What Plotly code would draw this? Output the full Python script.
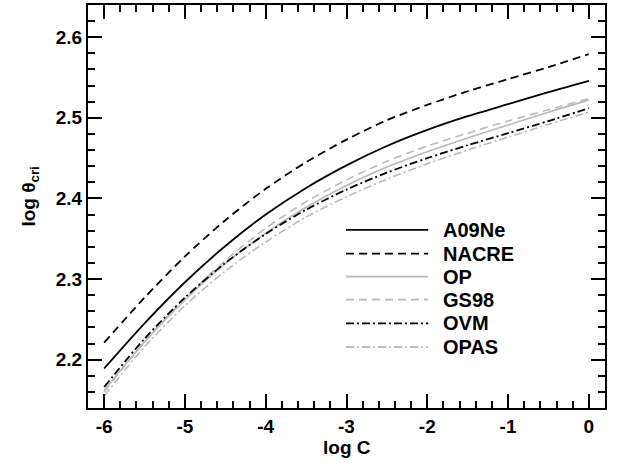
import plotly.graph_objects as go

# ---- data ----
log_C = [-6.0, -5.5, -5.0, -4.5, -4.0, -3.5, -3.0, -2.5, -2.0, -1.5, -1.0, -0.5, 0.0]

A09Ne = [2.189, 2.245, 2.296, 2.341, 2.380, 2.413, 2.441, 2.465, 2.485, 2.502, 2.517, 2.532, 2.546]
NACRE = [2.221, 2.277, 2.328, 2.373, 2.412, 2.445, 2.473, 2.497, 2.516, 2.533, 2.548, 2.563, 2.579]
OP    = [2.162, 2.222, 2.274, 2.319, 2.357, 2.389, 2.416, 2.439, 2.458, 2.475, 2.491, 2.507, 2.522]
GS98  = [2.160, 2.222, 2.276, 2.323, 2.363, 2.396, 2.423, 2.446, 2.465, 2.481, 2.496, 2.510, 2.524]
OVM   = [2.166, 2.226, 2.277, 2.320, 2.356, 2.386, 2.411, 2.432, 2.450, 2.466, 2.481, 2.496, 2.512]
OPAS  = [2.155, 2.216, 2.267, 2.310, 2.346, 2.377, 2.402, 2.424, 2.443, 2.460, 2.476, 2.492, 2.507]

names = ["A09Ne", "NACRE", "OP", "GS98", "OVM", "OPAS"]
series = [A09Ne, NACRE, OP, GS98, OVM, OPAS]

x_tickvals = [-6, -5, -4, -3, -2, -1, 0]
x_ticktext = ["-6", "-5", "-4", "-3", "-2", "-1", "0"]
y_tickvals = [2.2, 2.3, 2.4, 2.5, 2.6]
y_ticktext = ["2.2", "2.3", "2.4", "2.5", "2.6"]

x_title = "log C"
y_title = "log θ<sub>cri</sub>"

# ---- styles ----
BLACK = "#000000"
GRAY = "#b9b9b9"
styles = [
    dict(color=BLACK, width=1.8, dash="solid"),
    dict(color=BLACK, width=1.8, dash="8px,5px"),
    dict(color=GRAY, width=1.6, dash="solid"),
    dict(color=GRAY, width=1.6, dash="8px,5px"),
    dict(color=BLACK, width=1.8, dash="8px,3px,2px,3px"),
    dict(color=GRAY, width=1.6, dash="8px,3px,2px,3px"),
]

FONT = "Liberation Sans, Arial, sans-serif"
title_font = dict(size=19, color="black", weight="bold", family=FONT)

fig = go.Figure()
for name, ys, st in zip(names, series, styles):
    fig.add_trace(go.Scatter(x=log_C, y=ys, mode="lines", name=name,
                             line=dict(color=st["color"], width=st["width"],
                                       dash=st["dash"], shape="spline", smoothing=0.8),
                             showlegend=False))

# ---- manual legend (long line samples as in the reference) ----
leg_x0, leg_x1, leg_tx = 0.499, 0.658, 0.683
leg_y = [0.442, 0.383, 0.326, 0.269, 0.210, 0.151]
for name, st, yy in zip(names, styles, leg_y):
    fig.add_shape(type="line", xref="paper", yref="paper",
                  x0=leg_x0, x1=leg_x1, y0=yy, y1=yy,
                  line=dict(color=st["color"], width=st["width"], dash=st["dash"]))
    fig.add_annotation(xref="paper", yref="paper", x=leg_tx, y=yy,
                       xanchor="left", yanchor="middle", showarrow=False,
                       text=name, font=dict(size=20, color="black", weight="bold", family=FONT))

# ---- axis titles placed as in the reference ----
fig.add_annotation(xref="paper", yref="paper", x=0.5, y=-0.097,
                   xanchor="center", yanchor="middle", showarrow=False,
                   text=x_title, font=title_font)
fig.add_annotation(xref="paper", yref="paper", x=-0.112, y=0.525,
                   xanchor="center", yanchor="middle", showarrow=False,
                   textangle=-90, text=y_title, font=title_font)

axis_common = dict(
    showline=True, linewidth=2, linecolor="black", mirror="ticks",
    ticks="inside", ticklen=14, tickwidth=2, tickcolor="black",
    showgrid=False, zeroline=False,
    tickfont=dict(size=19, color="black", weight="bold", family=FONT),
)

fig.update_xaxes(range=[-6.2, 0.2], tickmode="array",
                 tickvals=x_tickvals, ticktext=x_ticktext,
                 minor=dict(dtick=0.2, tick0=0, ticklen=7, tickwidth=1.5,
                            ticks="inside", tickcolor="black"),
                 **axis_common)
fig.update_yaxes(range=[2.14, 2.64], tickmode="array",
                 tickvals=y_tickvals, ticktext=y_ticktext,
                 minor=dict(dtick=0.02, tick0=2.0, ticklen=7, tickwidth=1.5,
                            ticks="inside", tickcolor="black"),
                 **axis_common)

fig.update_layout(
    width=622, height=465,
    margin=dict(l=88, r=17, t=3, b=57),
    paper_bgcolor="white", plot_bgcolor="white",
    font=dict(family=FONT, color="black", weight="bold"),
)

fig.write_html("out.html")
